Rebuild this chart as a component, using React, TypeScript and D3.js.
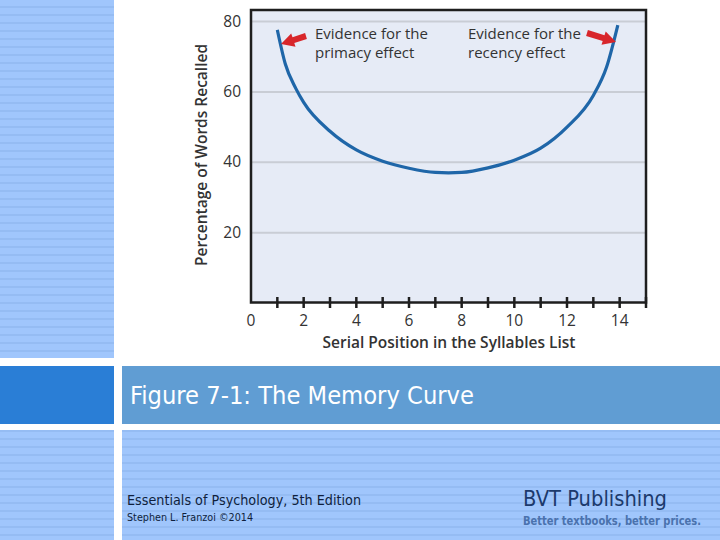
import React from "react";
import * as d3 from "d3";

const positions = [1, 1.3, 1.7, 2, 3, 4, 5, 6, 7, 7.5, 8, 9, 10, 11, 12, 13, 13.5, 13.93];
const recalled = [77.6, 68.0, 61.0, 57.0, 48.8, 43.5, 40.3, 38.3, 37.1, 37.0, 37.1, 38.4, 40.6, 44.0, 50.0, 59.0, 67.0, 79.0];
const yTicks = [20, 40, 60, 80];
const xLabelTicks = [0, 2, 4, 6, 8, 10, 12, 14];
const xMinorTicks = [1, 2, 3, 4, 5, 6, 7, 8, 9, 10, 11, 12, 13, 14];

const W = 720;
const H = 540;
const plot = { left: 251, right: 646, top: 10, bottom: 302.5 };

function arrowPath(tx: number, ty: number, hx: number, hy: number, shaftW: number, headW: number, headL: number) {
  const dx = hx - tx;
  const dy = hy - ty;
  const len = Math.hypot(dx, dy);
  const ux = dx / len;
  const uy = dy / len;
  const nx = -uy;
  const ny = ux;
  const bx = hx - ux * headL;
  const by = hy - uy * headL;
  const p = (a: number, b: number) => `${a.toFixed(1)},${b.toFixed(1)}`;
  return (
    "M" + p(tx + nx * shaftW / 2, ty + ny * shaftW / 2) +
    " L" + p(bx + nx * shaftW / 2, by + ny * shaftW / 2) +
    " L" + p(bx + nx * headW / 2, by + ny * headW / 2) +
    " L" + p(hx, hy) +
    " L" + p(bx - nx * headW / 2, by - ny * headW / 2) +
    " L" + p(bx - nx * shaftW / 2, by - ny * shaftW / 2) +
    " L" + p(tx - nx * shaftW / 2, ty - ny * shaftW / 2) + " Z"
  );
}

export default function App() {
  const x = d3.scaleLinear().domain([0, 15]).range([plot.left, plot.right]);
  const y = d3.scaleLinear().domain([0, 80]).range([303, 21.5]);
  const line = d3
    .line<number>()
    .x((_, i) => x(positions[i]))
    .y((d) => y(d))
    .curve(d3.curveMonotoneX);
  const chartFont = "'Open Sans', 'Noto Sans', sans-serif";
  const slideFont = "'Liberation Sans Narrow', 'DejaVu Sans Condensed', 'Open Sans', sans-serif";

  return (
    <svg width={W} height={H} style={{ position: "absolute", left: 0, top: 0, background: "#fff" }}>
      <defs>
        <pattern id="stripes" width="8" height="8" patternUnits="userSpaceOnUse">
          <rect width="8" height="8" fill="#a0c6fc" />
          <rect y="6" width="8" height="2" fill="#95bcf3" />
        </pattern>
      </defs>
      {/* slide background */}
      <rect x={0} y={0} width={114} height={358} fill="url(#stripes)" />
      <rect x={0} y={366} width={114} height={58} fill="#2a7ed6" />
      <rect x={122} y={366} width={598} height={58} fill="#609dd3" />
      <rect x={0} y={430} width={114} height={110} fill="url(#stripes)" />
      <rect x={122} y={430} width={598} height={110} fill="url(#stripes)" />

      {/* plot */}
      <rect x={plot.left} y={plot.top} width={plot.right - plot.left} height={plot.bottom - plot.top} fill="#e6ebf6" />
      {yTicks.map((t) => (
        <line key={t} x1={plot.left} x2={plot.right} y1={y(t)} y2={y(t)} stroke="#c9cdd5" strokeWidth={2} />
      ))}
      <rect x={plot.left} y={plot.top} width={plot.right - plot.left} height={plot.bottom - plot.top} fill="none" stroke="#1e1e1e" strokeWidth={2.5} />
      {xMinorTicks.map((t) => (
        <line key={t} x1={x(t)} x2={x(t)} y1={297} y2={308} stroke="#1e1e1e" strokeWidth={2.5} />
      ))}
      <line x1={plot.right} x2={plot.right} y1={297} y2={308} stroke="#1e1e1e" strokeWidth={2.5} />
      {xLabelTicks.map((t) => (
        <text key={t} x={x(t)} y={326} textAnchor="middle" fontFamily={chartFont} fontSize={15.5} fill="#333">
          {t}
        </text>
      ))}
      {yTicks.map((t) => (
        <text key={t} x={241} y={y(t) + 5} textAnchor="end" fontFamily={chartFont} fontSize={15.5} fill="#333">
          {t}
        </text>
      ))}
      <text
        transform={`translate(207,155) rotate(-90)`}
        textAnchor="middle"
        fontFamily={chartFont}
        fontSize={15.5}
        fontWeight={600}
        fill="#333"
      >
        Percentage of Words Recalled
      </text>
      <text x={449} y={348} textAnchor="middle" fontFamily={chartFont} fontSize={15.5} fontWeight={600} fill="#333">
        Serial Position in the Syllables List
      </text>

      <path d={line(recalled) || ""} fill="none" stroke="#1f66a8" strokeWidth={3.2} />

      {/* annotations */}
      <g fill="#d8262b">
        <path d={arrowPath(306, 36, 281, 44, 6, 14, 13)} />
        <path d={arrowPath(587, 33, 616, 42, 6, 14, 13)} />
      </g>
      <g fontFamily={chartFont} fontSize={15} fill="#333">
        <text x={315} y={39}>Evidence for the</text>
        <text x={315} y={58}>primacy effect</text>
        <text x={468} y={39}>Evidence for the</text>
        <text x={468} y={58}>recency effect</text>
      </g>

      {/* slide texts */}
      <text x={130} y={404} fontFamily={slideFont} fontSize={24} fill="#ffffff" textLength={344} lengthAdjust="spacingAndGlyphs">
        Figure 7-1: The Memory Curve
      </text>
      <text x={127} y={505} fontFamily={slideFont} fontSize={13.5} fill="#0f1f3d" textLength={234} lengthAdjust="spacingAndGlyphs">
        Essentials of Psychology, 5th Edition
      </text>
      <text x={127} y={521} fontFamily={slideFont} fontSize={10.5} fill="#0f1f3d" textLength={126} lengthAdjust="spacingAndGlyphs">
        Stephen L. Franzoi ©2014
      </text>
      <text x={523} y={506} fontFamily={slideFont} fontSize={21} fill="#1c3a6c" textLength={144} lengthAdjust="spacingAndGlyphs">
        BVT Publishing
      </text>
      <text x={523} y={525} fontFamily={slideFont} fontSize={12} fontWeight={700} fill="#4a72ad" textLength={178} lengthAdjust="spacingAndGlyphs">
        Better textbooks, better prices.
      </text>
    </svg>
  );
}
